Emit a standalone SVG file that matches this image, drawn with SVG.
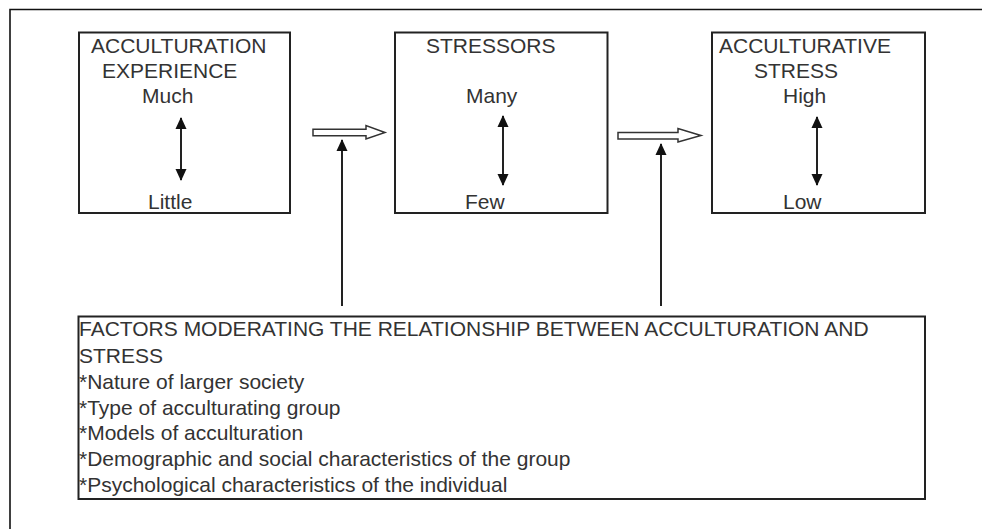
<svg xmlns="http://www.w3.org/2000/svg" width="982" height="529" viewBox="0 0 982 529">
<style>
  .box { fill: #fff; stroke: #222; stroke-width: 2; }
  .t { font-family: "Liberation Sans", Arial, sans-serif; font-size: 21px; fill: #333; }
  .dbl { stroke: #222; stroke-width: 2; fill: none; marker-start: url(#head); marker-end: url(#head); }
  .up { stroke: #222; stroke-width: 2; fill: none; marker-end: url(#head); }
  .hollow { fill: #fff; stroke: #333; stroke-width: 1.5; stroke-linejoin: miter; }
</style>
<defs>
  <marker id="head" markerUnits="userSpaceOnUse" markerWidth="12" markerHeight="14" refX="12" refY="6" orient="auto-start-reverse" viewBox="0 0 13 12">
    <path d="M0,0 L13,6 L0,12 Z" fill="#111"/>
  </marker>
</defs>
<rect width="982" height="529" fill="#fff"/>
<path d="M10,529 V9.5 H982" fill="none" stroke="#111" stroke-width="1.6"/>

<g id="node-acculturation">
  <rect class="box" x="79" y="32.5" width="211" height="180.5"/>
  <text class="t" x="91" y="53">ACCULTURATION</text>
  <text class="t" x="102" y="78">EXPERIENCE</text>
  <text class="t" x="142" y="102.5">Much</text>
  <text class="t" x="148" y="209">Little</text>
  <line class="dbl" x1="181" y1="118" x2="181" y2="180"/>
</g>

<g id="node-stressors">
  <rect class="box" x="395" y="32.5" width="212.5" height="180.5"/>
  <text class="t" x="426" y="53">STRESSORS</text>
  <text class="t" x="466" y="102.5">Many</text>
  <text class="t" x="465" y="209">Few</text>
  <line class="dbl" x1="503" y1="116" x2="503" y2="185"/>
</g>

<g id="node-stress">
  <rect class="box" x="712" y="32.5" width="213" height="180.5"/>
  <text class="t" x="719" y="53">ACCULTURATIVE</text>
  <text class="t" x="754" y="78">STRESS</text>
  <text class="t" x="783" y="102.5">High</text>
  <text class="t" x="783" y="209">Low</text>
  <line class="dbl" x1="817" y1="117" x2="817" y2="185"/>
</g>

<g id="node-factors">
  <rect class="box" x="78.5" y="316.5" width="846.5" height="182.5"/>
  <text class="t" x="79" y="336">FACTORS MODERATING THE RELATIONSHIP BETWEEN ACCULTURATION AND</text>
  <text class="t" x="79" y="362.5">STRESS</text>
  <text class="t" x="79" y="389">*Nature of larger society</text>
  <text class="t" x="79" y="415">*Type of acculturating group</text>
  <text class="t" x="79" y="440">*Models of acculturation</text>
  <text class="t" x="79" y="466">*Demographic and social characteristics of the group</text>
  <text class="t" x="79" y="491.5">*Psychological characteristics of the individual</text>
</g>

<g id="connectors">
  <path class="hollow" d="M313,129.3 H366 V125.5 L385,132.5 L366,139 V135.7 H313 Z"/>
  <path class="hollow" d="M618,132.5 H678 V128.5 L701,135.5 L678,142 V139 H618 Z"/>
  <line class="up" x1="342" y1="306" x2="342" y2="140"/>
  <line class="up" x1="661" y1="306" x2="661" y2="144"/>
</g>
</svg>
